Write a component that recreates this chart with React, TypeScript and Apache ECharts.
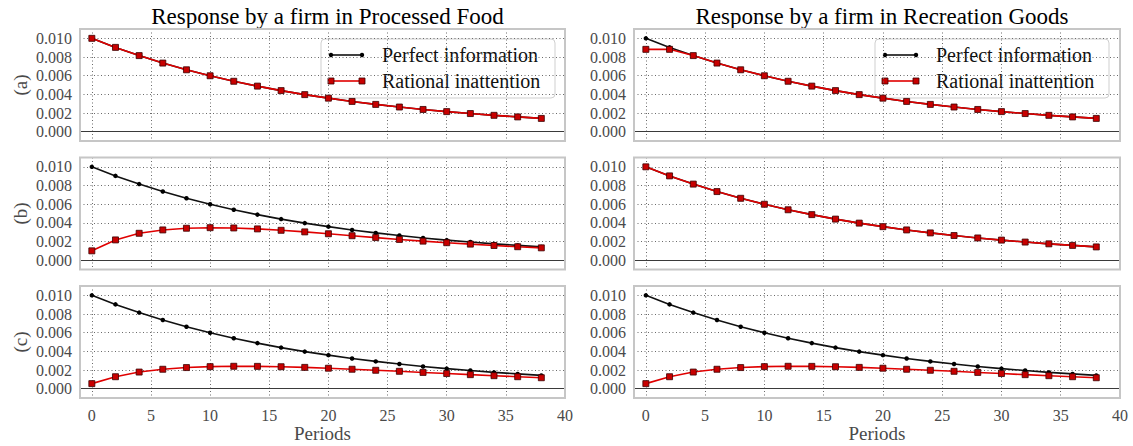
import React, { useEffect, useRef } from "react";
import * as echarts from "echarts";

const periods = [0, 2, 4, 6, 8, 10, 12, 14, 16, 18, 20, 22, 24, 26, 28, 30, 32, 34, 36, 38];

const perfectInfo = [0.01, 0.00903, 0.00815, 0.00735, 0.00663, 0.00599, 0.0054, 0.00488, 0.0044, 0.00397, 0.00359, 0.00324, 0.00292, 0.00264, 0.00238, 0.00215, 0.00194, 0.00175, 0.00158, 0.00142];

const rationalFoodA = [0.01, 0.00903, 0.00815, 0.00735, 0.00663, 0.00599, 0.0054, 0.00488, 0.0044, 0.00397, 0.00359, 0.00324, 0.00292, 0.00264, 0.00238, 0.00215, 0.00194, 0.00175, 0.00158, 0.00142];
const rationalRecA = [0.00882, 0.00882, 0.00815, 0.00735, 0.00663, 0.00599, 0.0054, 0.00488, 0.0044, 0.00397, 0.00359, 0.00324, 0.00292, 0.00264, 0.00238, 0.00215, 0.00194, 0.00175, 0.00158, 0.00142];
const rationalFoodB = [0.001, 0.00217, 0.00288, 0.00324, 0.00342, 0.00348, 0.00345, 0.00335, 0.0032, 0.00303, 0.00283, 0.00262, 0.00242, 0.00222, 0.00204, 0.00187, 0.00172, 0.00157, 0.00144, 0.00132];
const rationalRecB = [0.01, 0.00903, 0.00815, 0.00735, 0.00663, 0.00599, 0.0054, 0.00488, 0.0044, 0.00397, 0.00359, 0.00324, 0.00292, 0.00264, 0.00238, 0.00215, 0.00194, 0.00175, 0.00158, 0.00142];
const rationalFoodC = [0.00054, 0.00128, 0.00178, 0.00208, 0.00226, 0.00236, 0.0024, 0.00239, 0.00235, 0.00228, 0.00219, 0.00208, 0.00197, 0.00186, 0.00174, 0.00162, 0.0015, 0.00139, 0.00128, 0.00117];
const rationalRecC = [0.00054, 0.00128, 0.00178, 0.00208, 0.00226, 0.00236, 0.0024, 0.00239, 0.00235, 0.00228, 0.00219, 0.00208, 0.00197, 0.00186, 0.00174, 0.00162, 0.0015, 0.00139, 0.00128, 0.00117];

const titles = ["Response by a firm in Processed Food", "Response by a firm in Recreation Goods"];
const rowLabels = ["(a)", "(b)", "(c)"];
const legendNames = ["Perfect information", "Rational inattention"];

const FONT = "'Liberation Serif', 'DejaVu Serif', serif";

export default function App() {
  const ref = useRef<HTMLDivElement>(null);
  useEffect(() => {
    document.body.style.margin = "0";
    if (!ref.current) return;
    const chart = echarts.init(ref.current, null, { renderer: "svg" });

    const rational = [
      [rationalFoodA, rationalRecA],
      [rationalFoodB, rationalRecB],
      [rationalFoodC, rationalRecC],
    ];
    const lefts = [80, 634];
    const widths = [485, 486];
    const tops = [29, 157.5, 286];
    const H = 112;

    const grids: any[] = [];
    const xAxes: any[] = [];
    const yAxes: any[] = [];
    const series: any[] = [];
    const frames: any[] = [];

    let gi = 0;
    for (let r = 0; r < 3; r++) {
      for (let c = 0; c < 2; c++) {
        grids.push({
          left: lefts[c],
          top: tops[r],
          width: widths[c],
          height: H,
          show: true,
          borderColor: "#c4c4c4",
          borderWidth: 0,
          backgroundColor: "#fff",
          containLabel: false,
          outerBoundsMode: "none",
        });
        frames.push({
          type: "rect",
          z: 50,
          silent: true,
          shape: { x: lefts[c], y: tops[r], width: widths[c], height: H },
          style: { fill: null, stroke: "#c6c6c6", lineWidth: 2 },
        });
        const bottom = r === 2;
        xAxes.push({
          type: "value",
          gridIndex: gi,
          min: -1,
          max: 40,
          splitNumber: 8,
          axisLine: { show: false },
          axisTick: { show: false },
          axisLabel: {
            show: bottom,
            margin: 9,
            fontFamily: FONT,
            fontSize: 16,
            color: "#4a4a4a",
            formatter: (v: number) => (v < 0 ? "" : String(v)),
          },
          splitLine: { show: true, lineStyle: { color: "#6a6a6a", width: 1, type: [1, 2.5] } },
          name: bottom ? "Periods" : "",
          nameLocation: "middle",
          nameGap: 26,
          nameMoveOverlap: false,
          nameTextStyle: { fontFamily: FONT, fontSize: 19, color: "#4a4a4a" },
        });
        yAxes.push({
          type: "value",
          gridIndex: gi,
          min: -0.001,
          max: 0.011,
          splitNumber: 6,
          axisLine: { show: false },
          axisTick: { show: false },
          axisLabel: {
            margin: 8,
            fontFamily: FONT,
            fontSize: 16,
            color: "#4a4a4a",
            formatter: (v: number) => (v < -1e-9 || v > 0.0101 ? "" : v.toFixed(3)),
          },
          splitLine: { show: true, lineStyle: { color: "#6a6a6a", width: 1, type: [1, 2.5] } },
          name: c === 0 ? rowLabels[r] : "",
          nameLocation: "middle",
          nameRotate: 90,
          nameGap: 50,
          nameMoveOverlap: false,
          nameTextStyle: { fontFamily: FONT, fontSize: 19, color: "#4a4a4a" },
        });
        series.push({
          name: legendNames[0],
          type: "line",
          xAxisIndex: gi,
          yAxisIndex: gi,
          data: periods.map((p, i) => [p, perfectInfo[i]]),
          symbol: "circle",
          symbolSize: 4.5,
          itemStyle: { color: "#000" },
          lineStyle: { color: "#111", width: 1.6 },
          z: 3,
          markLine: {
            silent: true,
            symbol: "none",
            label: { show: false },
            lineStyle: { color: "#3a3a3a", width: 1.2, type: "solid" },
            data: [{ yAxis: 0 }],
          },
        });
        series.push({
          name: legendNames[1],
          type: "line",
          xAxisIndex: gi,
          yAxisIndex: gi,
          data: periods.map((p, i) => [p, rational[r][c][i]]),
          symbol: "rect",
          symbolSize: 6,
          itemStyle: { color: "#c80000", borderColor: "#3a0000", borderWidth: 0.8 },
          lineStyle: { color: "#e00000", width: 1.6 },
          z: 4,
        });
        gi++;
      }
    }

    const legendGroup = (dx: number) => ({
      type: "group",
      x: 321 + dx,
      y: 39,
      z: 100,
      children: [
        {
          type: "rect",
          shape: { x: 0, y: 0, width: 234, height: 59, r: 4 },
          style: { fill: "rgba(255,255,255,0.92)", stroke: "#cfcfcf", lineWidth: 1 },
        },
        { type: "line", shape: { x1: 10, y1: 16, x2: 41, y2: 16 }, style: { stroke: "#111", lineWidth: 1.6 } },
        { type: "circle", shape: { cx: 10, cy: 16, r: 2.2 }, style: { fill: "#000" } },
        { type: "circle", shape: { cx: 41, cy: 16, r: 2.2 }, style: { fill: "#000" } },
        {
          type: "text",
          x: 61,
          y: 16,
          style: { text: legendNames[0], fontFamily: FONT, fontSize: 20, fill: "#111", verticalAlign: "middle" },
        },
        { type: "line", shape: { x1: 10, y1: 42, x2: 41, y2: 42 }, style: { stroke: "#e00000", lineWidth: 1.6 } },
        { type: "rect", shape: { x: 7, y: 39, width: 6, height: 6 }, style: { fill: "#c80000", stroke: "#3a0000", lineWidth: 0.8 } },
        { type: "rect", shape: { x: 38, y: 39, width: 6, height: 6 }, style: { fill: "#c80000", stroke: "#3a0000", lineWidth: 0.8 } },
        {
          type: "text",
          x: 61,
          y: 42,
          style: { text: legendNames[1], fontFamily: FONT, fontSize: 20, fill: "#111", verticalAlign: "middle" },
        },
      ],
    });

    chart.setOption({
      animation: false,
      backgroundColor: "#fff",
      title: [
        { text: titles[0], left: 322.5, top: 0, textAlign: "center", textStyle: { fontFamily: FONT, fontSize: 23, fontWeight: "normal", color: "#000" } },
        { text: titles[1], left: 877, top: 0, textAlign: "center", textStyle: { fontFamily: FONT, fontSize: 23, fontWeight: "normal", color: "#000" } },
      ],
      grid: grids,
      xAxis: xAxes,
      yAxis: yAxes,
      series,
      graphic: [...frames, legendGroup(0), legendGroup(554)],
    });

    return () => chart.dispose();
  }, []);
  return <div ref={ref} style={{ width: 1133, height: 446 }} />;
}
